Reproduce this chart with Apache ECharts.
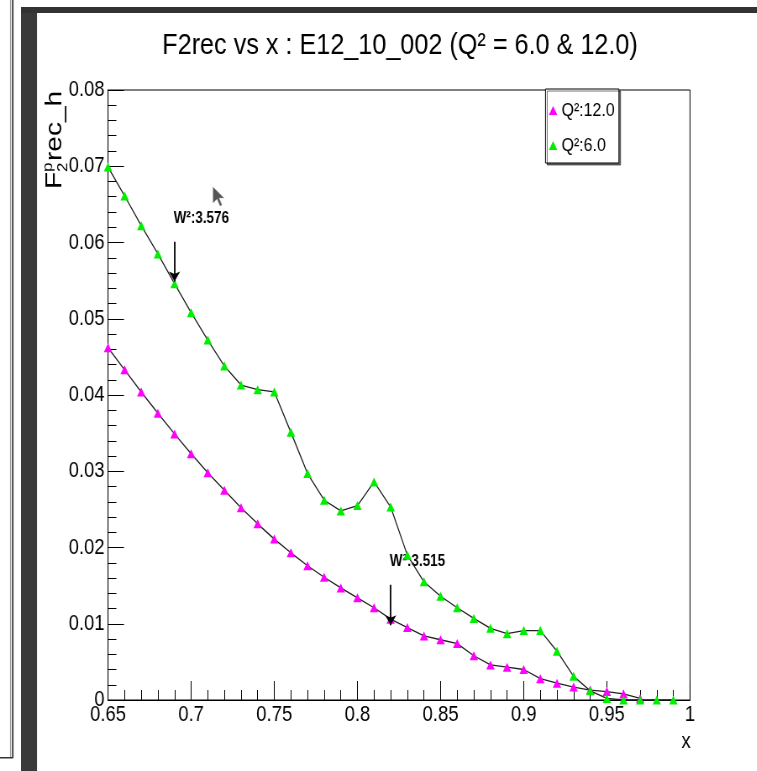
<!DOCTYPE html>
<html><head><meta charset="utf-8">
<script src="https://cdn.jsdelivr.net/npm/echarts@6/dist/echarts.min.js"></script>
<style>
html,body{margin:0;padding:0;background:#fff;overflow:hidden;width:757px;height:771px}
#c{width:901px;height:771px;transform:scaleX(0.84);transform-origin:0 0}
</style>
</head><body><div id="c"></div>
<script>
// ---- data ----
const xValuesQ6 = [0.65,0.66,0.67,0.68,0.69,0.70,0.71,0.72,0.73,0.74,0.75,0.76,0.77,0.78,0.79,0.80,0.81,0.82,0.83,0.84,0.85,0.86,0.87,0.88,0.89,0.90,0.91,0.92,0.93,0.94,0.95,0.96,0.97,0.98,0.99];
const f2Q6 = [0.0699,0.0661,0.0622,0.0585,0.0546,0.0508,0.0472,0.0438,0.0413,0.0407,0.0404,0.0351,0.0297,0.0262,0.0248,0.0255,0.0286,0.0253,0.0190,0.0155,0.0136,0.0121,0.0107,0.0094,0.0087,0.0091,0.0091,0.0064,0.0031,0.0012,0.0002,0.0000,0.0000,0.0000,0.0000];
const xValuesQ12 = [0.65,0.66,0.67,0.68,0.69,0.70,0.71,0.72,0.73,0.74,0.75,0.76,0.77,0.78,0.79,0.80,0.81,0.82,0.83,0.84,0.85,0.86,0.87,0.88,0.89,0.90,0.91,0.92,0.93,0.94,0.95,0.96,0.97];
const f2Q12 = [0.0462,0.0433,0.0404,0.0376,0.0349,0.0323,0.0298,0.0275,0.0252,0.0231,0.0211,0.0193,0.0176,0.0161,0.0147,0.0134,0.0121,0.0106,0.0095,0.0084,0.0079,0.0074,0.0058,0.0046,0.0043,0.0040,0.0028,0.0022,0.0017,0.0013,0.0011,0.0008,0.0002];
const seriesNames = ['Q²:12.0','Q²:6.0'];
const xRange = [0.65, 1.0, 0.05];
const yRange = [0, 0.08, 0.01];
const annotations = [
  {text:'W²:3.576', x:0.69, yTop:0.0601, yTip:0.0549},
  {text:'W²:3.515', x:0.82, yTop:0.0151, yTip:0.0098}
];
const titleText = 'F2rec vs x : E12_10_002 (Q² = 6.0 & 12.0)';

// the whole picture is horizontally condensed (CSS scaleX) like the reference
const S = 0.84;
const X = v => v / S;
const W = 901;

const FONT = '"Liberation Sans",Arial,sans-serif';
const MAG = '#ff00ff', GRN = '#00ee00';

const chart = echarts.init(document.getElementById('c'), null, {renderer:'canvas', width:W, height:771});
const fmt = v => String(+v.toFixed(2));

const axisCommon = {
  axisLine:{show:true, onZero:false, lineStyle:{color:'#000', width:1}},
  axisTick:{show:true, inside:true, length:19, lineStyle:{color:'#000', width:1}},
  minorTick:{show:true, splitNumber:5, length:10, lineStyle:{color:'#000', width:1}},
  splitLine:{show:false},
  axisLabel:{color:'#000', fontFamily:FONT, fontSize:22, margin:4, formatter:fmt}
};

chart.setOption({
  animation:false,
  backgroundColor:'#fff',
  grid:{left:X(108), right:W - X(690), top:90, bottom:71, show:true, borderColor:'#000', borderWidth:1, backgroundColor:'#fff'},
  xAxis:Object.assign({type:'value', min:xRange[0], max:xRange[1], interval:xRange[2]}, axisCommon),
  yAxis:Object.assign({type:'value', min:yRange[0], max:yRange[1], interval:yRange[2]}, axisCommon),
  legend:{
    orient:'vertical', left:X(545.5), top:89, itemWidth:10, itemHeight:9, itemGap:16,
    padding:[12,5,8,4], backgroundColor:'#fff', borderColor:'#000', borderWidth:1,
    shadowColor:'rgba(0,0,0,0.55)', shadowOffsetX:2, shadowOffsetY:2, shadowBlur:0,
    textStyle:{fontFamily:FONT, fontSize:19, color:'#000'},
    data:[
      {name:seriesNames[0], icon:'triangle', itemStyle:{color:MAG, borderWidth:0}},
      {name:seriesNames[1], icon:'triangle', itemStyle:{color:GRN, borderWidth:0}}
    ]
  },
  series:[
    {type:'line', name:seriesNames[0], data:xValuesQ12.map((x,i)=>[x,f2Q12[i]]),
     symbol:'triangle', symbolSize:[10,9], showAllSymbol:true, itemStyle:{color:MAG},
     lineStyle:{color:'#222', width:1.3}, z:2},
    {type:'line', name:seriesNames[1], data:xValuesQ6.map((x,i)=>[x,f2Q6[i]]),
     symbol:'triangle', symbolSize:[10,9], showAllSymbol:true, itemStyle:{color:GRN},
     lineStyle:{color:'#222', width:1.3}, z:3,
     markLine:{silent:true, symbol:['none','arrow'], symbolSize:10, label:{show:false},
       lineStyle:{color:'#000', width:1.8, type:'solid'},
       data:annotations.map(a=>[{coord:[a.x,a.yTop]},{coord:[a.x,a.yTip]}])}
    }
  ]
});

// graphics: frame decoration, title, axis titles, annotation texts
const g = [
  {type:'rect', shape:{x:X(10), y:0, width:X(1), height:758}, style:{fill:'#999'}, silent:true},
  {type:'rect', shape:{x:X(12), y:0, width:X(1.5), height:758}, style:{fill:'#333'}, silent:true},
  {type:'rect', shape:{x:0, y:757, width:X(13), height:1.5}, style:{fill:'#333'}, silent:true},
  {type:'rect', shape:{x:X(21), y:7, width:X(16), height:771}, style:{fill:'#3a3a3a'}, silent:true},
  {type:'rect', shape:{x:X(21), y:7, width:W, height:6}, style:{fill:'#333'}, silent:true},
  {type:'text', x:X(400), y:46, style:{text:titleText, font:'30px '+FONT, fill:'#000', align:'center', verticalAlign:'middle'}},
  {type:'group', x:X(67), y:189, rotation:Math.PI/2, children:[
    {type:'text', x:0, y:0, style:{text:'F', font:'28px '+FONT, fill:'#000', verticalAlign:'bottom'}},
    {type:'text', x:17, y:-14, style:{text:'p', font:'17px '+FONT, fill:'#000', verticalAlign:'bottom'}},
    {type:'text', x:17, y:4, style:{text:'2', font:'17px '+FONT, fill:'#000', verticalAlign:'bottom'}},
    {type:'text', x:28, y:0, style:{text:'rec_h', font:'28px '+FONT, fill:'#000', verticalAlign:'bottom'}}
  ]},
  {type:'polygon', shape:{points:[[213,187],[213,203],[217,199],[220,206],[222,205],[219,198],[224,198]].map(p=>[X(p[0]),p[1]])}, style:{fill:'#555', stroke:'#aaa', lineWidth:0.5}, silent:true}
];
const xEnd = chart.convertToPixel({gridIndex:0}, [xRange[1], yRange[0]]);
g.push({type:'text', x:xEnd[0]-X(4), y:xEnd[1]+42, style:{text:'x', font:'22px '+FONT, fill:'#000', align:'center', verticalAlign:'middle'}});
annotations.forEach(a=>{
  const p = chart.convertToPixel({gridIndex:0}, [a.x, a.yTop]);
  g.push({type:'text', x:p[0]-1, y:p[1]-23, style:{text:a.text, font:'bold 16px '+FONT, fill:'#000', align:'left', verticalAlign:'middle'}});
});
chart.setOption({graphic:g});
</script></body></html>
